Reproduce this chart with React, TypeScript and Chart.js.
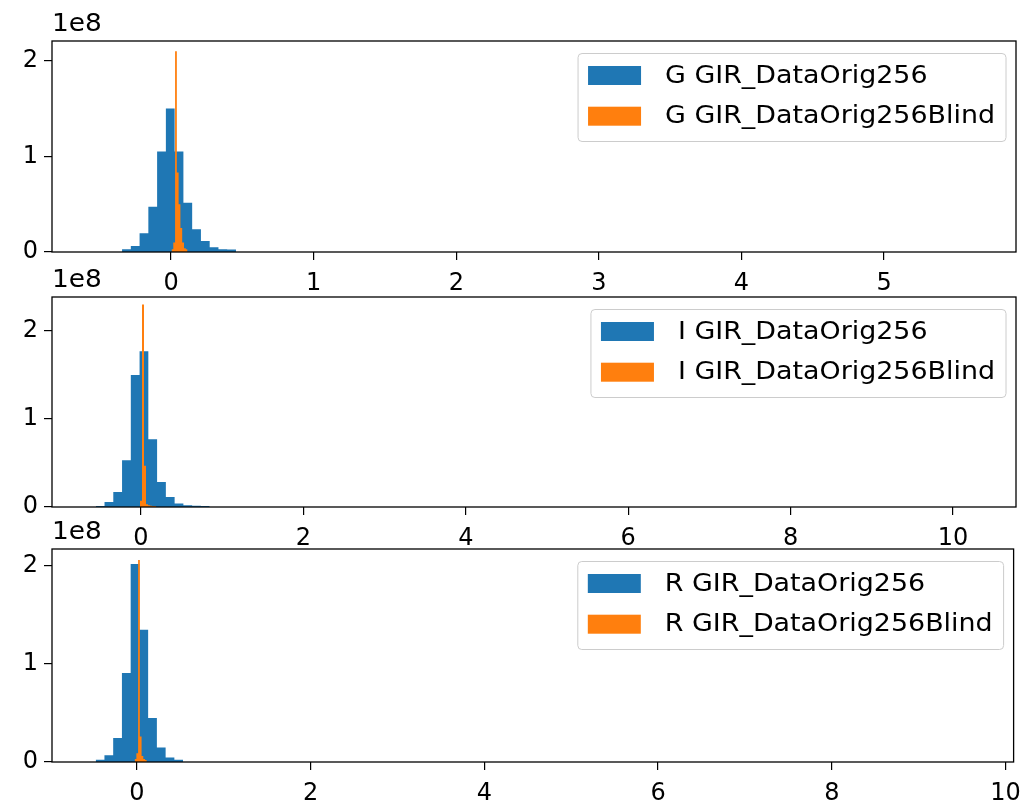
import React, { useEffect, useRef } from "react";
import { Chart, registerables } from "chart.js";

Chart.register(...registerables);

// ---------- data (counts are in units of 1e8) ----------
const yTicks = [0, 1, 2];
const xTicksG = [0, 1, 2, 3, 4, 5];
const xTicksI = [0, 2, 4, 6, 8, 10];
const xTicksR = [0, 2, 4, 6, 8, 10];

const channels = ["G", "I", "R"];

// G channel
const gBlueStart = -0.3437;
const gBlueWidth = 0.06145;
const gBlueCounts = [0.03, 0.063, 0.195, 0.474, 1.05, 1.5, 1.05, 0.515, 0.237, 0.115, 0.049, 0.028, 0.025];
const gOrangeStart = 0.003;
const gOrangeWidth = 0.0125;
const gOrangeCounts = [0.03, 0.1, 2.1, 0.83, 0.5, 0.25, 0.1, 0.04, 0.03];

// I channel
const iBlueStart = -0.557;
const iBlueWidth = 0.1079;
const iBlueCounts = [0.011, 0.057, 0.17, 0.53, 1.5, 1.77, 0.77, 0.284, 0.114, 0.039, 0.02, 0.015, 0.012];
const iOrangeStart = -0.013;
const iOrangeWidth = 0.025;
const iOrangeCounts = [0.07, 2.3, 0.47, 0.03, 0.02, 0.015, 0.01, 0.01];

// R channel
const rBlueStart = -0.473;
const rBlueWidth = 0.1006;
const rBlueCounts = [0.023, 0.068, 0.245, 0.908, 2.02, 1.35, 0.449, 0.149, 0.047, 0.023];
const rOrangeStart = -0.025;
const rOrangeWidth = 0.02;
const rOrangeCounts = [0.03, 0.09, 2.06, 0.26, 0.06, 0.03, 0.02];

// axis limits
const gXRange = [-0.835, 5.925];
const iXRange = [-1.096, 10.776];
const rXRange = [-0.976, 10.092];
const gYMax = 2.206;
const iYMax = 2.386;
const rYMax = 2.173;

// ---------- helpers ----------
function toSteps(start: number, width: number, counts: number[]) {
  const pts = [{ x: start, y: 0 }];
  counts.forEach((c, i) => pts.push({ x: start + i * width, y: c }));
  pts.push({ x: start + counts.length * width, y: 0 });
  return pts;
}

const BLUE = "#1f77b4";
const ORANGE = "#ff7f0e";
const FONT = '"DejaVu Sans", "Liberation Sans", sans-serif';

const framePlugin = {
  id: "mplFrame",
  afterDatasetsDraw(chart: any) {
    const { ctx, chartArea: ca } = chart;
    ctx.save();
    ctx.strokeStyle = "#000";
    ctx.lineWidth = 1.3;
    ctx.strokeRect(ca.left, ca.top, ca.right - ca.left, ca.bottom - ca.top);
    ctx.restore();
  },
};

const legendPlugin = {
  id: "mplLegend",
  afterDraw(chart: any) {
    const { ctx, chartArea: ca } = chart;
    const ds = chart.data.datasets;
    const fs = 24;
    const sx = 1.12;
    ctx.save();
    ctx.font = `${fs}px ${FONT}`;
    const tw = Math.max(...ds.map((d: any) => ctx.measureText(d.label).width)) * sx;
    const w = 10 + 53 + 24 + tw + 11;
    const h = 88;
    const right = ca.right - 10;
    const top = ca.top + 12.5;
    const left = right - w;
    const r = 4;
    ctx.beginPath();
    ctx.moveTo(left + r, top);
    ctx.lineTo(right - r, top);
    ctx.quadraticCurveTo(right, top, right, top + r);
    ctx.lineTo(right, top + h - r);
    ctx.quadraticCurveTo(right, top + h, right - r, top + h);
    ctx.lineTo(left + r, top + h);
    ctx.quadraticCurveTo(left, top + h, left, top + h - r);
    ctx.lineTo(left, top + r);
    ctx.quadraticCurveTo(left, top, left + r, top);
    ctx.closePath();
    ctx.fillStyle = "rgba(255,255,255,0.8)";
    ctx.fill();
    ctx.strokeStyle = "#cccccc";
    ctx.lineWidth = 1;
    ctx.stroke();
    ds.forEach((d: any, i: number) => {
      const cy = top + 22 + i * 40.7;
      ctx.fillStyle = d.backgroundColor;
      ctx.fillRect(left + 10, cy - 9.5, 53, 19);
      ctx.save();
      ctx.translate(left + 87, cy + 1);
      ctx.scale(sx, 1);
      ctx.fillStyle = "#000";
      ctx.textBaseline = "middle";
      ctx.textAlign = "left";
      ctx.fillText(d.label, 0, 0);
      ctx.restore();
    });
    // offset text for y axis
    ctx.save();
    ctx.translate(ca.left, ca.top - 10.3);
    ctx.scale(1.1, 1);
    ctx.fillStyle = "#000";
    ctx.textBaseline = "alphabetic";
    ctx.textAlign = "left";
    ctx.font = `${fs}px ${FONT}`;
    ctx.fillText("1e8", 0, 0);
    ctx.restore();
    ctx.restore();
  },
};

type PanelProps = {
  letter: string;
  top: number;
  bottom: number;
  xRange: number[];
  yMax: number;
  xTicks: number[];
  blue: { x: number; y: number }[];
  orange: { x: number; y: number }[];
};

function Panel(p: PanelProps) {
  const ref = useRef<HTMLCanvasElement>(null);
  const canvasTop = p.top - 41;
  const height = p.bottom - p.top + 86;
  useEffect(() => {
    if (!ref.current) return;
    const tickFont = { family: FONT, size: 24 };
    const chart = new Chart(ref.current, {
      type: "line",
      data: {
        datasets: [
          {
            label: `${p.letter} GIR_DataOrig256`,
            data: p.blue,
            stepped: true,
            fill: "origin",
            backgroundColor: BLUE,
            borderColor: "rgba(0,0,0,0)",
            borderWidth: 0,
            pointRadius: 0,
            order: 1,
          } as any,
          {
            label: `${p.letter} GIR_DataOrig256Blind`,
            data: p.orange,
            stepped: true,
            fill: "origin",
            backgroundColor: ORANGE,
            borderColor: "rgba(0,0,0,0)",
            borderWidth: 0,
            pointRadius: 0,
            order: 0,
          } as any,
        ],
      },
      options: {
        responsive: false,
        animation: false,
        devicePixelRatio: 1,
        layout: { padding: { top: 41, left: 0, right: 14, bottom: 0 } },
        plugins: { legend: { display: false }, tooltip: { enabled: false } },
        scales: {
          x: {
            type: "linear",
            min: p.xRange[0],
            max: p.xRange[1],
            afterBuildTicks: (s: any) => {
              s.ticks = p.xTicks.map((v) => ({ value: v }));
            },
            afterFit: (s: any) => {
              s.height = 45;
            },
            grid: { drawOnChartArea: false, drawTicks: true, tickLength: 8, color: "#000", lineWidth: 1.2 },
            border: { display: false },
            ticks: { color: "#000", font: tickFont, padding: 9, maxRotation: 0, autoSkip: false },
          },
          y: {
            type: "linear",
            min: 0,
            max: p.yMax,
            afterBuildTicks: (s: any) => {
              s.ticks = yTicks.map((v) => ({ value: v }));
            },
            afterFit: (s: any) => {
              s.width = 52;
            },
            grid: { drawOnChartArea: false, drawTicks: true, tickLength: 8, color: "#000", lineWidth: 1.2 },
            border: { display: false },
            ticks: { color: "#000", font: tickFont, padding: 6, autoSkip: false },
          },
        },
      } as any,
      plugins: [framePlugin, legendPlugin],
    });
    return () => chart.destroy();
  }, []);
  return (
    <canvas
      ref={ref}
      width={1030}
      height={height}
      style={{ position: "absolute", left: 0, top: canvasTop, width: 1030, height }}
    />
  );
}

export default function App() {
  const panels: PanelProps[] = [
    {
      letter: channels[0],
      top: 41,
      bottom: 252,
      xRange: gXRange,
      yMax: gYMax,
      xTicks: xTicksG,
      blue: toSteps(gBlueStart, gBlueWidth, gBlueCounts),
      orange: toSteps(gOrangeStart, gOrangeWidth, gOrangeCounts),
    },
    {
      letter: channels[1],
      top: 297,
      bottom: 507,
      xRange: iXRange,
      yMax: iYMax,
      xTicks: xTicksI,
      blue: toSteps(iBlueStart, iBlueWidth, iBlueCounts),
      orange: toSteps(iOrangeStart, iOrangeWidth, iOrangeCounts),
    },
    {
      letter: channels[2],
      top: 549,
      bottom: 762,
      xRange: rXRange,
      yMax: rYMax,
      xTicks: xTicksR,
      blue: toSteps(rBlueStart, rBlueWidth, rBlueCounts),
      orange: toSteps(rOrangeStart, rOrangeWidth, rOrangeCounts),
    },
  ];
  return (
    <div style={{ position: "absolute", left: 0, top: 0, width: 1030, height: 808, background: "#fff", overflow: "hidden" }}>
      {panels.map((p) => (
        <Panel key={p.letter} {...p} />
      ))}
    </div>
  );
}
